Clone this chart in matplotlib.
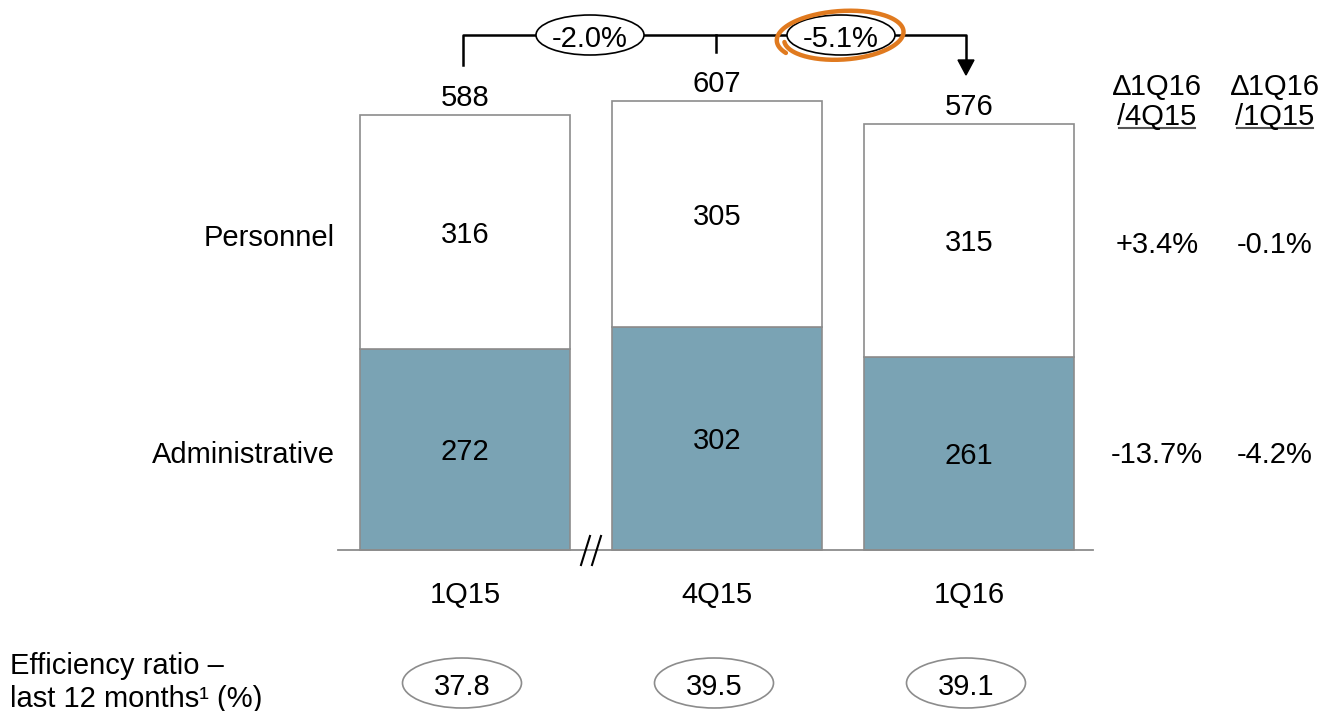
import numpy as np
import matplotlib.pyplot as plt
from matplotlib.patches import Ellipse, Polygon

plt.rcParams['font.family'] = ['Liberation Sans', 'DejaVu Sans']
plt.rcParams['font.size'] = 21

quarters = ['1Q15', '4Q15', '1Q16']
personnel = [316, 305, 315]
administrative = [272, 302, 261]
totals = [588, 607, 576]
efficiency = ['37.8', '39.5', '39.1']
changes = ['-2.0%', '-5.1%']
delta_heads = ['/4Q15', '/1Q15']
delta_personnel = ['+3.4%', '-0.1%']
delta_admin = ['-13.7%', '-4.2%']

W, H = 1321, 711
fig = plt.figure(figsize=(W / 100, H / 100), dpi=100)

# bar axes: x in pixels, y in values (baseline at pixel row 550)
base = 550
k = 0.7398
ax = fig.add_axes([0, 0, 1, 1])
ax.set_xlim(0, W)
ax.set_ylim(-(H - base) / k, base / k)
ax.axis('off')

xc = [465, 717, 969]
grey = '#8C8C8C'
ax.bar(xc, administrative, width=210, color='#7AA3B4', edgecolor=grey, linewidth=1.2)
ax.bar(xc, personnel, bottom=administrative, width=210, color='white',
       edgecolor=grey, linewidth=1.2)
ax.plot([338, 1093], [0, 0], color=grey, lw=1.3)

for x, a, p, t in zip(xc, administrative, personnel, totals):
    ax.text(x, a / 2, str(a), ha='center', va='center_baseline')
    ax.text(x, a + p / 2, str(p), ha='center', va='center_baseline')
    ax.annotate(str(t), (x, t), xytext=(0, 14.5), textcoords='offset points',
                ha='center', va='center_baseline')

# overlay in pixel coordinates for the annotations
ov = fig.add_axes([0, 0, 1, 1])
ov.set_xlim(0, W)
ov.set_ylim(H, 0)
ov.axis('off')
ov.patch.set_alpha(0)

ov.text(335, 235, 'Personnel', ha='right', va='center_baseline')
ov.text(335, 452, 'Administrative', ha='right', va='center_baseline')

for x, q, e in zip(xc, quarters, efficiency):
    ov.text(x, 592, q, ha='center', va='center_baseline')
    ov.add_patch(Ellipse((x - 3, 683), 119, 50, fill=False, ec=grey, lw=1.2))
    ov.text(x - 3, 684, e, ha='center', va='center_baseline')

ov.text(10, 663, 'Efficiency ratio –', ha='left', va='center_baseline')
ov.text(10, 696, 'last 12 months\u00b9 (%)', ha='left', va='center_baseline')

# axis break marks
ov.plot([581, 590], [565, 536], color='black', lw=1.5)
ov.plot([592, 601], [565, 536], color='black', lw=1.5)

# change bracket above the bars
ly = 35
ov.plot([463, 463, 966, 966], [65, ly, ly, 62], color='black', lw=1.8)
ov.plot([716, 716], [ly, 52], color='black', lw=1.8)
ov.add_patch(Polygon([[958, 60], [974, 60], [966, 75]], closed=True, color='black'))
for cx, c in zip([590, 841], changes):
    ov.add_patch(Ellipse((cx, ly), 108, 40, fc='white', ec='black', lw=1.2, zorder=3))
    ov.text(cx, ly + 1, c, ha='center', va='center_baseline', zorder=4)

# hand-drawn highlight loop
t = np.linspace(np.radians(150), np.radians(150 + 385), 200)
r = 1 - 0.12 * (t - t[0]) / (t[-1] - t[0])
rot = np.radians(-4)
ex = 66 * r * np.cos(t)
ey = 26 * r * np.sin(t)
ov.plot(842 + ex * np.cos(rot) - ey * np.sin(rot),
        36 + ex * np.sin(rot) + ey * np.cos(rot),
        color='#E07A1F', lw=3.2, solid_capstyle='round', zorder=5)

# change columns on the right
for cx, h, dp, da in zip([1157, 1275], delta_heads, delta_personnel, delta_admin):
    ov.text(cx, 84, '\u22061Q16', ha='center', va='center_baseline')
    ov.text(cx, 114, h, ha='center', va='center_baseline')
    ov.plot([cx - 38, cx + 38], [128, 128], color='#555555', lw=1.5)
    ov.text(cx, 242, dp, ha='center', va='center_baseline')
    ov.text(cx, 452, da, ha='center', va='center_baseline')

fig.savefig('out.png', dpi=100)
